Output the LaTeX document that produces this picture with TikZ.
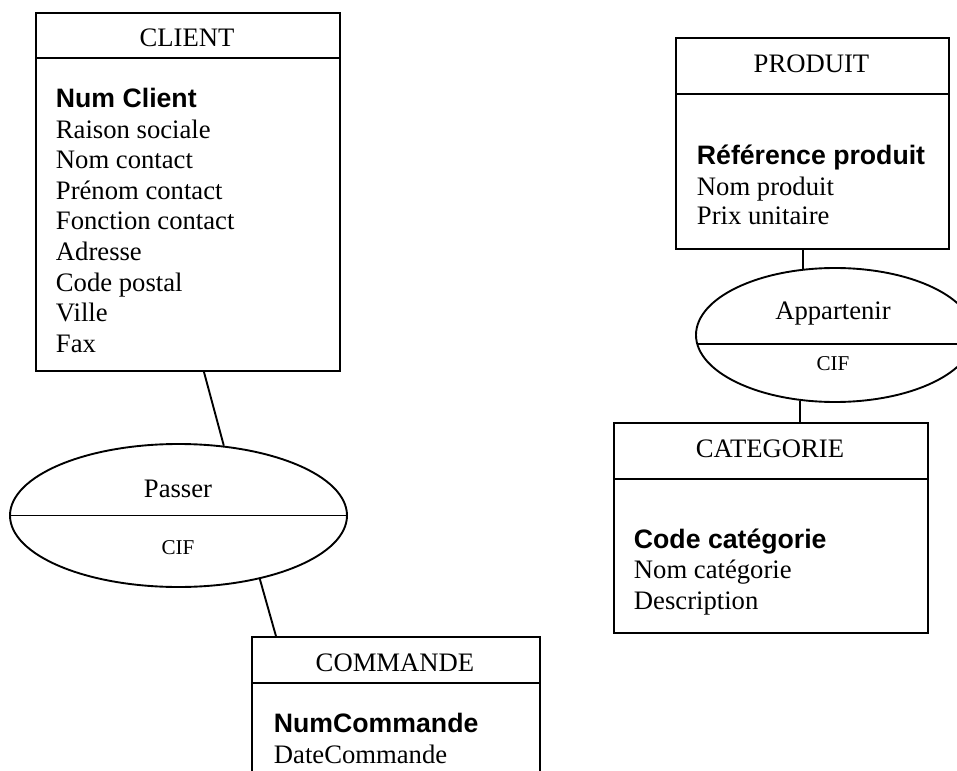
\documentclass[tikz,border=0pt]{standalone}
\usepackage{fontspec}
\setmainfont{Liberation Serif}
\setsansfont{Liberation Sans}
\usetikzlibrary{shapes.geometric}
\newlength\pxu
\setlength\pxu{0.45pt}
\begin{document}
\begin{tikzpicture}[x=\pxu,y=-\pxu, line width=0.85pt,
  entity/.style={draw, rectangle, anchor=north west, inner sep=0pt},
  relation/.style={draw, ellipse, inner sep=0pt},
  title/.style={anchor=base, font=\fontsize{12}{13.8}\selectfont, inner sep=0pt},
  attr/.style={anchor=base west, font=\fontsize{12}{13.8}\selectfont, inner sep=0pt},
  key/.style={anchor=base west, font=\fontsize{12}{13.8}\selectfont\sffamily\bfseries, inner sep=0pt},
  card/.style={anchor=base, font=\fontsize{9.5}{11}\selectfont, inner sep=0pt},
  link/.style={draw}]
\useasboundingbox (0,0) rectangle (957,771);
\clip (0,0) rectangle (957,771);

% CLIENT
\node[entity, minimum width=304\pxu, minimum height=358\pxu] (client) at (35,12) {};
\draw ([yshift=-46\pxu]client.north west) -- ([yshift=-46\pxu]client.north east);
\node[title] (clientT) at (187,47) {CLIENT};
\node[key] (c0) at (55,108) {Num Client};
\foreach \t [count=\i] in {Raison sociale,Nom contact,Prénom contact,Fonction contact,Adresse,Code postal,Ville,Fax}
  \node[attr] (c\i) at (55,{108+30.5*\i}) {\t};

% PRODUIT
\node[entity, minimum width=273\pxu, minimum height=211\pxu] (produit) at (675,37) {};
\draw ([yshift=-57\pxu]produit.north west) -- ([yshift=-57\pxu]produit.north east);
\node[title] (produitT) at (811.5,73) {PRODUIT};
\node[key] (p0) at (696,165) {Référence produit};
\node[attr] (p1) at (696,195) {Nom produit};
\node[attr] (p2) at (696,225) {Prix unitaire};

% CATEGORIE
\node[entity, minimum width=314\pxu, minimum height=210\pxu] (categorie) at (613,422) {};
\draw ([yshift=-57\pxu]categorie.north west) -- ([yshift=-57\pxu]categorie.north east);
\node[title] (categorieT) at (770,457) {CATEGORIE};
\node[key] (k0) at (633,548) {Code catégorie};
\node[attr] (k1) at (633,578.5) {Nom catégorie};
\node[attr] (k2) at (633,609) {Description};

% COMMANDE
\node[entity, minimum width=288\pxu, minimum height=200\pxu] (commande) at (251,636) {};
\draw ([yshift=-47\pxu]commande.north west) -- ([yshift=-47\pxu]commande.north east);
\node[title] (commandeT) at (395,671) {COMMANDE};
\node[key] (m0) at (273,732) {NumCommande};
\node[attr] (m1) at (273,763) {DateCommande};

% Passer
\node[relation, minimum width=337\pxu, minimum height=143\pxu] (passer) at (178.5,515.5) {};
\draw (passer.west) -- (passer.east);
\node[title] (passerT) at (178,497) {Passer};
\node[card] (passerC) at (178,554) {CIF};

% Appartenir
\node[relation, minimum width=278\pxu, minimum height=134\pxu] (appartenir) at (835,335) {};
\draw (697.3,344) -- (972.7,344);
\node[title] (appartenirT) at (833,319) {Appartenir};
\node[card] (appartenirC) at (833,370) {CIF};

% connectors
\draw[link] ([xshift=16\pxu]client.south) -- (passer.57.4);
\draw[link] (passer.-38.4) -- ([xshift=-120\pxu]commande.north);
\draw[link] (appartenir.116.9 |- produit.south) -- (appartenir.116.9);
\draw[link] (appartenir.242.4) -- (appartenir.242.4 |- categorie.north);
\end{tikzpicture}
\end{document}
